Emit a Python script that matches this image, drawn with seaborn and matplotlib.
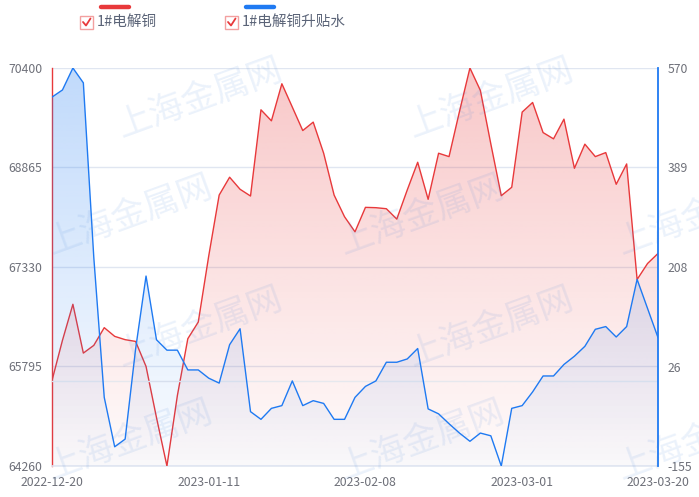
import numpy as np
import pandas as pd
import matplotlib
matplotlib.use('Agg')
import matplotlib.pyplot as plt
import seaborn as sns
from matplotlib.colors import to_rgb
from matplotlib.lines import Line2D
from matplotlib.patches import Rectangle

# series values, one per trading day 2022-12-20 .. 2023-03-20 (59 days)
copper = [65579, 66198, 66755, 66002, 66121, 66394, 66260, 66209, 66182, 65796,
          65007, 64260, 65347, 66224, 66481, 67500, 68440, 68715, 68529, 68425,
          69755, 69585, 70157, 69797, 69435, 69565, 69085, 68440, 68105, 67873,
          68250, 68245, 68229, 68069, 68518, 68946, 68374, 69085, 69033, 69730,
          70400, 70054, 69229, 68430, 68560, 69720, 69868, 69404, 69307, 69611,
          68853, 69225, 69033, 69095, 68606, 68920, 67137, 67384, 67539]
premium = [517, 530, 570, 543, 225, -30, -120, -106, 58, 191,
           75, 56, 56, 20, 20, 5, -4, 66, 95, -56,
           -70, -50, -45, 0, -45, -36, -41, -70, -70, -30,
           -10, 0, 34, 34, 40, 59, -51, -60, -78, -95,
           -110, -95, -100, -155, -50, -45, -20, 9, 9, 30,
           45, 63, 94, 99, 80, 99, 185, 132, 79]
date_ticks = [0, 15, 30, 45, 58]
date_labels = ['2022-12-20', '2023-01-11', '2023-02-08', '2023-03-01', '2023-03-20']
left_ticks = [64260, 65795, 67330, 68865, 70400]
right_labels = ['-155', '26', '208', '389', '570']
series_names = ['1#电解铜', '1#电解铜升贴水']

RED = '#E8393B'
BLUE = '#1F7AF2'
GREY = '#6E7079'

sns.set_theme(style='white')
plt.rcParams['font.family'] = ['Noto Sans CJK SC', 'DejaVu Sans']

df = pd.DataFrame({'idx': np.arange(len(copper)), 'copper': copper, 'premium': premium})

W, H = 699, 497
fig = plt.figure(figsize=(W / 100, H / 100), dpi=100)
ax = fig.add_axes([52 / W, 1 - 466 / H, 606 / W, 398 / H])
ax2 = ax.twinx()


def gradient_fill(a, x, y, color, a_top, a_bot, ybot):
    poly = a.fill_between(x, y, ybot, color='none', lw=0)
    grad = np.zeros((256, 1, 4))
    grad[:, :, :3] = to_rgb(color)
    grad[:, 0, 3] = np.linspace(a_top, a_bot, 256)
    im = a.imshow(grad, aspect='auto', origin='upper', zorder=1,
                  extent=[x.min(), x.max(), ybot, max(y)], interpolation='bilinear')
    im.set_clip_path(poly.get_paths()[0], transform=a.transData)


ylo, yhi = left_ticks[0], left_ticks[-1]
rlo, rhi = int(right_labels[0]), int(right_labels[-1])

gradient_fill(ax, df['idx'], df['copper'], RED, 0.28, 0.02, ylo)
sns.lineplot(data=df, x='idx', y='copper', ax=ax, color=RED, lw=1, zorder=3)
gradient_fill(ax2, df['idx'], df['premium'], BLUE, 0.28, 0.02, rlo)
sns.lineplot(data=df, x='idx', y='premium', ax=ax2, color=BLUE, lw=1, zorder=3)

ax.set_xlim(0, len(copper) - 1)
ax.set_ylim(ylo, yhi)
ax2.set_ylim(rlo, rhi)
ax.set_yticks(left_ticks)
ax.set_yticklabels([str(v) for v in left_ticks])
ax2.set_yticks(np.linspace(rlo, rhi, 5))
ax2.set_yticklabels(right_labels)
ax.set_xticks(date_ticks)
ax.set_xticklabels(date_labels)
for a in (ax, ax2):
    a.set_xlabel('')
    a.set_ylabel('')
    a.tick_params(length=0, labelsize=8.8, labelcolor=GREY)
ax.tick_params(axis='y', pad=7)
ax2.tick_params(axis='y', pad=7)
ax.tick_params(axis='x', pad=7)

for v in left_ticks[1:]:
    ax.axhline(v, color='#E0E6F1', lw=1, zorder=0)
ax2.axhline(0, color='#E6E8EE', lw=1, zorder=0)

for s in ('top', 'right'):
    ax.spines[s].set_visible(False)
ax.spines['left'].set_color(RED)
ax.spines['left'].set_linewidth(1)
ax.spines['bottom'].set_color('#E0E6F1')
ax.spines['bottom'].set_linewidth(1.2)
for s in ('top', 'left', 'bottom'):
    ax2.spines[s].set_visible(False)
ax2.spines['right'].set_color(BLUE)
ax2.spines['right'].set_linewidth(1.3)


def fx(px):
    return px / W


def fy(py):
    return 1 - py / H


# legend drawn by hand: colour bar above, checkbox, label
for x0, col, name in [(80, RED, series_names[0]), (225, BLUE, series_names[1])]:
    fig.add_artist(Line2D([fx(x0 + 21), fx(x0 + 49)], [fy(7), fy(7)], color=col, lw=3.2,
                          solid_capstyle='round'))
    fig.add_artist(Rectangle((fx(x0), fy(29)), 13 / W, 13 / H, transform=fig.transFigure,
                             facecolor='white', edgecolor='#F3A0A0', lw=1))
    fig.add_artist(Line2D([fx(x0 + 3), fx(x0 + 6), fx(x0 + 10.5)],
                          [fy(22), fy(25.5), fy(18.5)], color=RED, lw=1.3))
    fig.text(fx(x0 + 17), fy(22), name, fontsize=10.5, color='#5B6478', va='center', ha='left')

# faint site watermark
for cx, cy in [(200, 98), (491, 98), (130, 215), (422, 215), (700, 215),
               (200, 327), (491, 327), (130, 440), (422, 440), (700, 440)]:
    fig.text(fx(cx), fy(cy), '上海金属网', fontsize=25, color='#3D7FD9', alpha=0.10,
             rotation=20, ha='center', va='center', zorder=10)

fig.savefig('out.png', dpi=100)
